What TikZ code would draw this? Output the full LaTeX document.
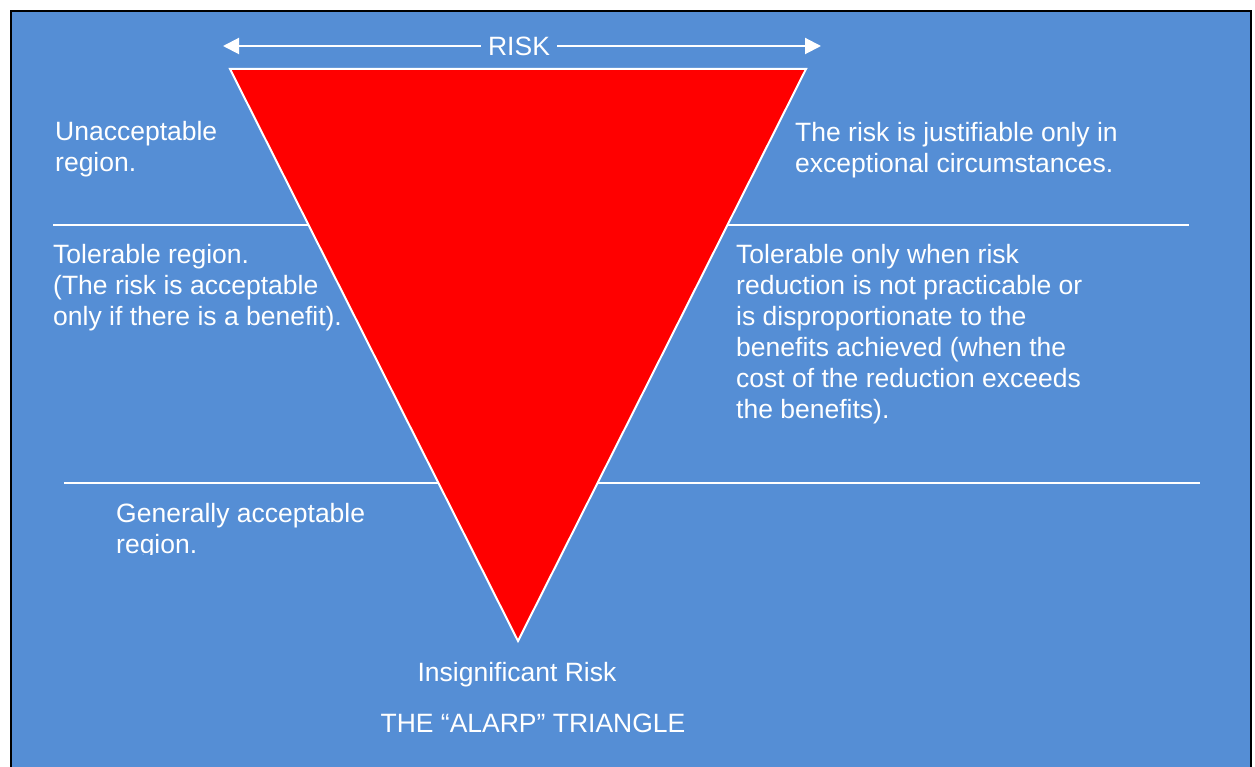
\documentclass[tikz,border=0pt]{standalone}
\usepackage{fontspec}
\setmainfont{Liberation Sans}
\usetikzlibrary{arrows.meta}
\definecolor{bgblue}{RGB}{85,142,213}
\tikzset{
  lbl/.style={text=white, font=\fontsize{26.5}{31}\selectfont, align=left, inner sep=0pt, anchor=base west},
  ctr/.style={text=white, font=\fontsize{26.5}{31}\selectfont, inner sep=0pt},
  sep/.style={draw=white, line width=1.6pt},
  wline/.style={draw=white, line width=2pt},
}
\begin{document}
\begin{tikzpicture}[x=1pt,y=-1pt]
\useasboundingbox (0,0) rectangle (1255,767);
\fill[white] (0,0) rectangle (1255,767);
\begin{scope}
\clip (0,0) rectangle (1255,767);
\draw[black, line width=2pt, fill=bgblue] (11,11) rectangle (1251,800);
\end{scope}
% separator lines
\coordinate (l1a) at (53,225);
\coordinate (l1b) at (1189,225);
\coordinate (l2a) at (64,483);
\coordinate (l2b) at (1200,483);
\draw[sep] (l1a) -- (l1b);
\draw[sep] (l2a) -- (l2b);
% triangle
\coordinate (tl) at (230,69);
\coordinate (tr) at (806,69);
\coordinate (ap) at (518,641);
\draw[wline, fill=red, line join=miter] (tl) -- (tr) -- (ap) -- cycle;
% risk arrow
\node[ctr, inner xsep=7pt] (risk) at (519,46) {RISK};
\coordinate (arrL) at (223,46);
\coordinate (arrR) at (821,46);
\draw[wline, -{Triangle[length=16pt,width=16pt]}] (risk.west) -- (arrL);
\draw[wline, -{Triangle[length=16pt,width=16pt]}] (risk.east) -- (arrR);
% texts (anchored at the baseline of the last line)
\node[lbl] (unacc) at (55,172) {Unacceptable\\region.};
\node[lbl] (just) at (795,173) {The risk is justifiable only in\\exceptional circumstances.};
\node[lbl] (tolL) at (53,325) {Tolerable region.\\(The risk is acceptable\\only if there is a benefit).};
\node[lbl] (tolR) at (736,418) {Tolerable only when risk\\reduction is not practicable or\\is disproportionate to the\\benefits achieved (when the\\cost of the reduction exceeds\\the benefits).};
\begin{scope}
\clip (0,0) rectangle (1255,554);
\node[lbl] (gen) at (116,553) {Generally acceptable\\region.};
\end{scope}
\node[ctr, anchor=base] (insig) at (517,681) {Insignificant Risk};
\node[ctr, anchor=base] (title) at (533,732) {THE “ALARP” TRIANGLE};
\end{tikzpicture}
\end{document}
